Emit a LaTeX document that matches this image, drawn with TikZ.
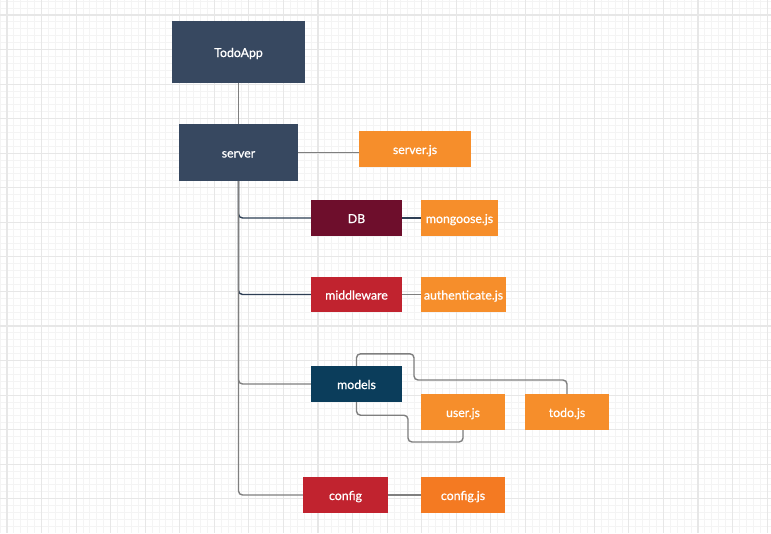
\documentclass[tikz,border=0pt]{standalone}
\usepackage{fontspec}
\setmainfont{Lato}
\newfontfamily\boxfont{Lato}[FakeBold=0.7]
\definecolor{slate}{HTML}{374860}
\definecolor{wine}{HTML}{6E0E2C}
\definecolor{crimson}{HTML}{C1232F}
\definecolor{petrol}{HTML}{0B3D5B}
\definecolor{amber}{HTML}{F68E2B}
\definecolor{tangerine}{HTML}{F47A22}
\definecolor{navyline}{HTML}{2E3F55}
\definecolor{greyline}{HTML}{7F7F7F}
\definecolor{minorgrid}{HTML}{F4F4F4}
\definecolor{majorgrid}{HTML}{E7E7E7}
\begin{document}
\begin{tikzpicture}[x=1pt, y=-1pt,
    box/.style={rectangle, inner sep=0pt, text=white, text height=10pt, text depth=0pt,
      font=\boxfont\fontsize{12.3}{14}\selectfont},
    link/.style={draw=greyline, line width=1.4pt, rounded corners=4pt},
    darklink/.style={draw=navyline, line width=1.4pt, rounded corners=4pt}]
  \useasboundingbox (0,0) rectangle (771,533);
  \fill[white] (0,0) rectangle (771,533);
  % grid
  \begin{scope}
    \clip (0,0) rectangle (771,533);
    \foreach \k in {-1,...,110}
      \draw[minorgrid, line width=0.9pt] (7+6.91*\k,0) -- (7+6.91*\k,533);
    \foreach \k in {-2,...,74}
      \draw[minorgrid, line width=0.9pt] (0,15+6.91*\k) -- (771,15+6.91*\k);
    \foreach \k in {0,...,22}
      \draw[majorgrid, line width=1.1pt] (7+34.55*\k,0) -- (7+34.55*\k,533);
    \foreach \k in {0,...,14}
      \draw[majorgrid, line width=1.1pt] (0,15+34.55*\k) -- (771,15+34.55*\k);
  \end{scope}

  \node[box, fill=slate, minimum width=133pt, minimum height=62pt] (todoapp) at (238.5,52) {TodoApp};
  \node[box, fill=slate, minimum width=119pt, minimum height=57pt] (server) at (238.5,152.5) {server};
  \node[box, fill=amber, minimum width=112pt, minimum height=36pt] (serverjs) at (415,149) {server.js};

  \node[box, fill=wine, minimum width=91pt, minimum height=36pt] (db) at (356.5,218) {DB};
  \node[box, fill=amber, minimum width=77pt, minimum height=36pt] (mongoose) at (459.5,218) {mongoose.js};
  \node[box, fill=crimson, minimum width=91pt, minimum height=35pt] (middleware) at (356.5,294.5) {middleware};
  \node[box, fill=amber, minimum width=85pt, minimum height=35pt] (authenticate) at (463.5,294.5) {authenticate.js};
  \node[box, fill=petrol, minimum width=91pt, minimum height=36pt] (models) at (356.5,384) {models};
  \node[box, fill=amber, minimum width=84pt, minimum height=36pt] (userjs) at (463,412) {user.js};
  \node[box, fill=amber, minimum width=84pt, minimum height=36pt] (todojs) at (567,412) {todo.js};
  \node[box, fill=crimson, minimum width=85pt, minimum height=36pt] (config) at (345.5,495) {config};
  \node[box, fill=tangerine, minimum width=84pt, minimum height=36pt] (configjs) at (463,495) {config.js};

  % connectors
  \draw[link] (todoapp.south) -- (server.north);
  \draw[link] (server.east) -- (server.east -| serverjs.west);
  \draw[darklink] (server.south) |- (db.west);
  \draw[darklink] (server.south) |- (middleware.west);
  \draw[link] (server.south) |- (models.west);
  \draw[link] (server.south) |- (config.west);
  \draw[darklink] (db.east) -- (mongoose.west);
  \draw[link] (middleware.east) -- (authenticate.west);
  \draw[link] (config.east) -- (configjs.west);
  \draw[link] (models.north) -- ++(0,-12) -| (414,380) -| (todojs.north);
  \draw[link] (models.south) -- ++(0,13) -| (408,442) -| (userjs.south);
\end{tikzpicture}
\end{document}
